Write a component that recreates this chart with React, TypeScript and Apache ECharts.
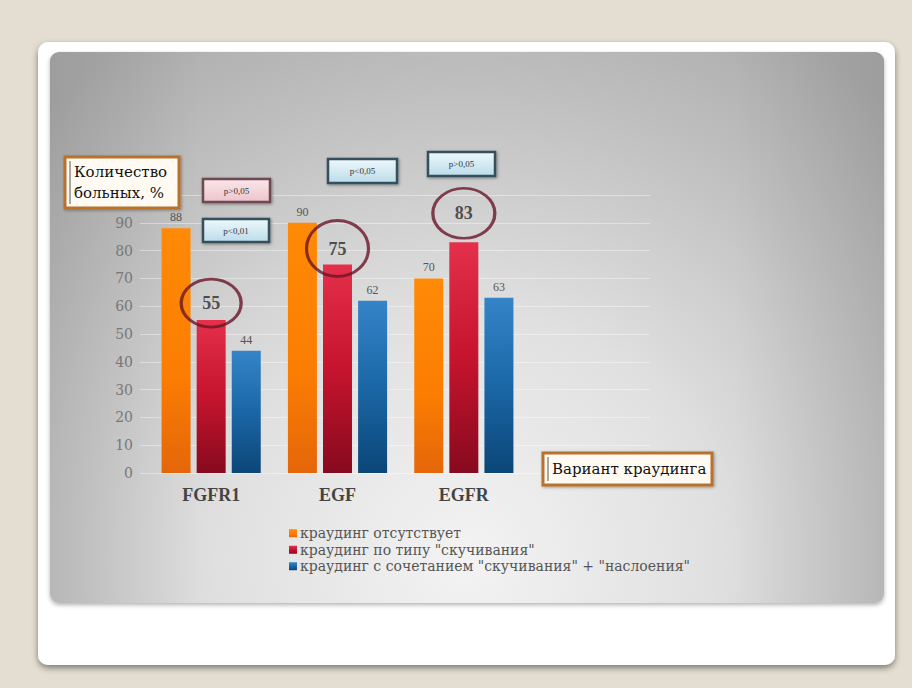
import React, { useEffect, useRef } from "react";
import * as echarts from "echarts";

const categories = ["FGFR1", "EGF", "EGFR"];
const seriesNames = [
  "краудинг отсутствует",
  "краудинг по типу \"скучивания\"",
  "краудинг с сочетанием \"скучивания\" + \"наслоения\"",
];
const noCrowding = [88, 90, 70];
const clumping = [55, 75, 83];
const combined = [44, 62, 63];
const yAxisTitle = ["Количество", "больных, %"];
const xAxisTitle = "Вариант краудинга";
const pLabels = ["p>0,05", "p<0,01", "p<0,05", "p>0,05"];

const SERIF = "'Liberation Serif', serif";
const WIDE = "'DejaVu Serif', serif";

const vGrad = (stops: [number, string][]) =>
  new echarts.graphic.LinearGradient(0, 0, 0, 1, stops.map(([offset, color]) => ({ offset, color })));

const orangeFill = vGrad([
  [0, "#ff8a06"],
  [0.6, "#fb7d02"],
  [1, "#e4660a"],
]);
const redFill = vGrad([
  [0, "#e4304a"],
  [0.5, "#c6142e"],
  [1, "#870a1e"],
]);
const blueFill = vGrad([
  [0, "#3584c8"],
  [0.5, "#1b67a6"],
  [1, "#0b4677"],
]);

const pBox = (x: number, y: number, w: number, h: number, text: string, pink: boolean) => ({
  type: "group",
  x,
  y,
  z: 100,
  children: [
    {
      type: "rect",
      z: 100,
      shape: { x: 0, y: 0, width: w, height: h },
      style: {
        fill: pink
          ? vGrad([
              [0, "#fbe6ea"],
              [1, "#ecc4cc"],
            ])
          : vGrad([
              [0, "#eef8fc"],
              [1, "#bcdcea"],
            ]),
        stroke: pink ? "#6c4853" : "#34505c",
        lineWidth: 2.5,
        shadowBlur: 3,
        shadowOffsetX: 1,
        shadowOffsetY: 1,
        shadowColor: "rgba(0,0,0,0.4)",
      },
    },
    {
      type: "text",
      z: 101,
      x: w / 2,
      y: h / 2,
      style: {
        text,
        fontFamily: SERIF,
        fontSize: 9,
        fill: "#333",
        align: "center",
        verticalAlign: "middle",
      },
    },
  ],
});

const titleBox = (x: number, y: number, w: number, h: number, lines: string[], fontSize: number, lineH: number) => ({
  type: "group",
  x,
  y,
  z: 100,
  children: [
    {
      type: "rect",
      z: 100,
      shape: { x: 0, y: 0, width: w, height: h },
      style: {
        fill: "#fffbf3",
        stroke: "#b9722f",
        lineWidth: 3,
        shadowBlur: 3,
        shadowOffsetX: 1,
        shadowOffsetY: 1,
        shadowColor: "rgba(0,0,0,0.35)",
      },
    },
    {
      type: "line",
      z: 101,
      shape: { x1: 5, y1: 4, x2: 5, y2: h - 4 },
      style: { stroke: "#555", lineWidth: 1 },
    },
    ...lines.map((t, i) => ({
      type: "text",
      z: 101,
      x: 9,
      y: h / 2 + (i - (lines.length - 1) / 2) * lineH,
      style: {
        text: t,
        fontFamily: WIDE,
        fontSize,
        fill: "#111",
        align: "left",
        verticalAlign: "middle",
      },
    })),
  ],
});

const ellipsePath = "path://M0,50 A50,50 0 1,1 100,50 A50,50 0 1,1 0,50 Z";
const circleSizes = [
  [60, 48],
  [62, 56],
  [62, 50],
];
const circleOffsets = [-17, -16, -29];

export default function App() {
  const ref = useRef<HTMLDivElement>(null);
  useEffect(() => {
    if (!ref.current) return;
    const chart = echarts.init(ref.current, undefined, { renderer: "svg" });
    const valueLabel = {
      show: true,
      position: "top",
      distance: 5,
      fontFamily: SERIF,
      fontSize: 12,
      color: "#555",
    };
    chart.setOption({
      animation: false,
      backgroundColor: "#e4ddd1",
      textStyle: { fontFamily: SERIF },
      graphic: [
        {
          type: "rect",
          z: -10,
          shape: { x: 38, y: 42, width: 857, height: 623, r: 10 },
          style: {
            fill: "#ffffff",
            shadowBlur: 6,
            shadowOffsetY: 3,
            shadowColor: "rgba(0,0,0,0.45)",
          },
        },
        {
          type: "rect",
          z: -9,
          shape: { x: 50, y: 52, width: 834, height: 551, r: 9 },
          style: {
            fill: new echarts.graphic.RadialGradient(
              467,
              560,
              620,
              [
                { offset: 0, color: "#f3f3f3" },
                { offset: 0.4, color: "#e0e0e0" },
                { offset: 0.75, color: "#c0c0c0" },
                { offset: 1, color: "#ababab" },
              ],
              true
            ),
            shadowBlur: 4,
            shadowOffsetY: 2,
            shadowColor: "rgba(0,0,0,0.3)",
          },
        },
        {
          type: "rect",
          z: -8,
          shape: { x: 50, y: 52, width: 834, height: 551, r: 9 },
          style: {
            fill: new echarts.graphic.LinearGradient(0, 0, 1, 0, [
              { offset: 0, color: "rgba(0,0,0,0.08)" },
              { offset: 0.18, color: "rgba(0,0,0,0)" },
              { offset: 0.82, color: "rgba(0,0,0,0)" },
              { offset: 1, color: "rgba(0,0,0,0.08)" },
            ]),
          },
        },
        titleBox(65, 157, 114, 51, yAxisTitle, 15, 21),
        titleBox(543, 453, 169, 32, [xAxisTitle], 15, 0),
        pBox(203, 179, 67, 23, pLabels[0], true),
        pBox(203, 219, 66, 23, pLabels[1], false),
        pBox(328, 159, 69, 24, pLabels[2], false),
        pBox(428, 152, 67, 24, pLabels[3], false),
      ],
      legend: {
        orient: "vertical",
        left: 284,
        top: 520,
        itemWidth: 8,
        itemHeight: 8,
        itemGap: 0,
        icon: "rect",
        data: seriesNames,
        textStyle: {
          fontFamily: WIDE,
          fontSize: 14,
          lineHeight: 16.5,
          color: "#555",
          padding: [0, 0, 0, -2],
        },
      },
      grid: [
        { left: 148, right: 385, top: 195, bottom: 215 },
        { left: 140, right: 262, top: 195, bottom: 215 },
      ],
      xAxis: [
        {
          type: "category",
          gridIndex: 0,
          data: categories,
          axisLine: { show: false },
          axisTick: { show: false },
          axisLabel: {
            fontFamily: SERIF,
            fontWeight: "bold",
            fontSize: 18,
            color: "#444",
            margin: 13,
          },
        },
        {
          type: "value",
          gridIndex: 1,
          show: false,
        },
      ],
      yAxis: [
        {
          type: "value",
          gridIndex: 0,
          min: 0,
          max: 100,
          interval: 10,
          axisLine: { show: false },
          axisTick: { show: false },
          axisLabel: {
            fontFamily: WIDE,
            fontSize: 14,
            color: "#777",
            margin: 15,
            formatter: (v: number) => (v === 100 ? "" : String(v)),
          },
          splitLine: { show: false },
        },
        {
          type: "value",
          gridIndex: 1,
          min: 0,
          max: 100,
          interval: 10,
          axisLine: { show: false },
          axisTick: { show: false },
          axisLabel: { show: false },
          splitLine: { lineStyle: { color: "rgba(255,255,255,0.4)", width: 1 } },
        },
      ],
      series: [
        {
          name: seriesNames[0],
          type: "bar",
          data: noCrowding,
          barWidth: 29,
          barGap: "21%",
          itemStyle: { color: orangeFill },
          label: valueLabel,
        },
        {
          name: seriesNames[1],
          type: "bar",
          data: clumping,
          barWidth: 29,
          barGap: "21%",
          itemStyle: { color: redFill },
        },
        {
          name: seriesNames[2],
          type: "bar",
          data: combined,
          barWidth: 29,
          barGap: "21%",
          itemStyle: { color: blueFill },
          label: valueLabel,
        },
        {
          name: "circles",
          type: "scatter",
          z: 5,
          data: clumping.map((v, i) => ({
            value: [i, v],
            symbolSize: circleSizes[i],
            symbolOffset: [0, circleOffsets[i]],
          })),
          symbol: ellipsePath,
          itemStyle: {
            color: "rgba(0,0,0,0)",
            borderColor: "#6a1528",
            borderWidth: 3,
          },
          label: {
            show: true,
            position: "inside",
            formatter: (p: any) => String(p.value[1]),
            fontFamily: SERIF,
            fontWeight: "bold",
            fontSize: 18,
            color: "#2a2a2a",
          },
          emphasis: { disabled: true },
        },
      ],
    });
    return () => chart.dispose();
  }, []);
  return (
    <div
      ref={ref}
      style={{ position: "fixed", left: 0, top: 0, width: 912, height: 688 }}
    />
  );
}
